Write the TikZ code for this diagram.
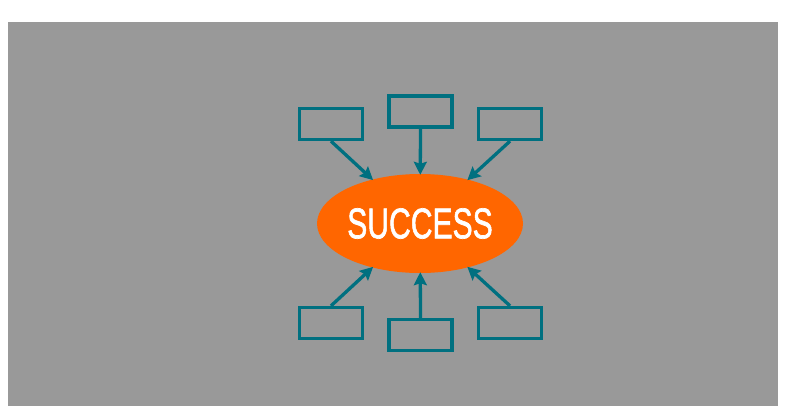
\documentclass[tikz,border=0pt]{standalone}
\usepackage{fontspec}
\setmainfont{Liberation Sans}
\newfontfamily\successfont{Liberation Sans}[FakeBold=1.6]
\usetikzlibrary{shapes.geometric,arrows.meta}
\definecolor{r153g153b153}{rgb}{0.600000,0.600000,0.600000}
\definecolor{r0g112b128}{rgb}{0.000000,0.439216,0.501961}
\definecolor{r255g102b0}{rgb}{1.000000,0.400000,0.000000}
\tikzset{
  goalbox/.style={draw=r0g112b128, line width=3.3pt, minimum width=63pt, minimum height=31pt, inner sep=0pt},
  goalarrow/.style={draw=r0g112b128, line width=3.3pt, -{Stealth[length=13pt,width=13pt,inset=2pt]}, shorten >=-1pt},
  successoval/.style={ellipse, fill=r255g102b0, minimum width=206pt, minimum height=99pt, inner sep=0pt, text=white}
}
\begin{document}
\begin{tikzpicture}[x=1pt,y=-1pt]
                    \useasboundingbox (0,0) rectangle (786,415);

                    % Filling background
                    \fill[r153g153b153] (7.5,22) rectangle (778,406);

                    % Drawing oval SUCCESS
                    \node[successoval] (success) at (420,223.5) {\scalebox{0.70}[1]{\fontsize{43pt}{43pt}\successfont SUCCESS}};

                    % Drawing boxes above
                    \node[goalbox] (topleft) at (331,124) {};
                    \node[goalbox] (topmid) at (420.5,111.5) {};
                    \node[goalbox] (topright) at (510,124) {};

                    % Drawing boxes below
                    \node[goalbox] (botleft) at (331,323) {};
                    \node[goalbox] (botmid) at (420.5,335) {};
                    \node[goalbox] (botright) at (510,323) {};

                    % Drawing arrows to oval
                    \draw[goalarrow] (topleft.south) -- (success);
                    \draw[goalarrow] (topmid.south) -- (success);
                    \draw[goalarrow] (topright.south) -- (success);
                    \draw[goalarrow] (botleft.north) -- (success);
                    \draw[goalarrow] (botmid.north) -- (success);
                    \draw[goalarrow] (botright.north) -- (success);
\end{tikzpicture}
\end{document}
